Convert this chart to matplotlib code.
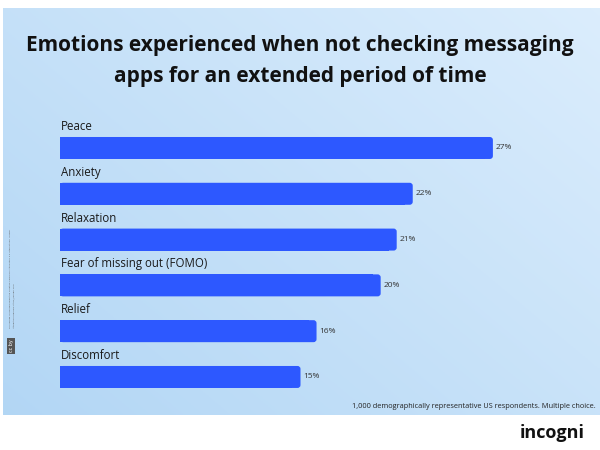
import numpy as np
import matplotlib.pyplot as plt
from matplotlib.patches import FancyBboxPatch, Rectangle

# data
categories = ["Peace", "Anxiety", "Relaxation", "Fear of missing out (FOMO)", "Relief", "Discomfort"]
values = [27, 22, 21, 20, 16, 15]
value_labels = ["27%", "22%", "21%", "20%", "16%", "15%"]

title = "Emotions experienced when not checking messaging\napps for an extended period of time"
note = "1,000 demographically representative US respondents. Multiple choice."
bar_color = "#2d58ff"

fig = plt.figure(figsize=(6, 4.5), dpi=100)
fig.patch.set_facecolor("white")

# background panel with a soft gradient
bg = fig.add_axes([3 / 600, 1 - 415 / 450, 597 / 600, 407 / 450])
xx, yy = np.meshgrid(np.linspace(0, 1, 200), np.linspace(0, 1, 200))
t = 0.55 * (1 - xx) + 0.45 * yy
top = np.array([0.86, 0.93, 0.99])
bot = np.array([0.70, 0.84, 0.96])
img = top[None, None, :] * (1 - t[..., None]) + bot[None, None, :] * t[..., None]
bg.imshow(img, aspect="auto", extent=[0, 1, 0, 1])
bg.set_axis_off()

# title
fig.text(0.5, 1 - 61 / 450, title, ha="center", va="center", fontsize=15,
         fontweight="bold", family="Open Sans", color="#111111", linespacing=1.6)

# main axes
ax = fig.add_axes([60 / 600, 1 - 400 / 450, 481 / 600, 280 / 450])
ax.set_xlim(0, 30)
ax.set_ylim(5.503, -0.611)
ax.set_axis_off()

h = 0.48
r = 0.19
for i, (cat, v, lab) in enumerate(zip(categories, values, value_labels)):
    ax.add_patch(FancyBboxPatch((0, i - h / 2), v, h,
                                boxstyle=f"round,pad=0,rounding_size={r}",
                                mutation_aspect=0.34, fc=bar_color, ec="none"))
    ax.add_patch(Rectangle((0, i - h / 2), v - 0.5, h, fc=bar_color, ec="none"))
    ax.text(0.05, i - 0.47, cat, ha="left", va="center", fontsize=8.3,
            family="Open Sans", color="#1a1a1a")
    ax.text(v + 0.2, i, lab, ha="left", va="center", fontsize=6,
            family="Open Sans", color="#333333")

# footnote
fig.text(596 / 600, 1 - 407 / 450, note, ha="right", va="center", fontsize=5.35,
         family="Open Sans", color="#222222")

# side licence note
fig.text(10 / 600, 1 - 328 / 450,
         "This image is licensed under the Creative Commons Attribution 4.0 International license.",
         rotation=90, ha="center", va="bottom", fontsize=1.6, color="#555555")
fig.text(14 / 600, 1 - 328 / 450,
         "Attribution required: https://incogni.com",
         rotation=90, ha="center", va="bottom", fontsize=1.6, color="#555555")
fig.text(11 / 600, 1 - 346 / 450, "cc by", rotation=90, ha="center", va="center",
         fontsize=3.5, color="white",
         bbox=dict(boxstyle="square,pad=0.3", fc="#555555", ec="none"))

# logo
fig.text(585 / 600, 1 - 433 / 450, "incogni", ha="right", va="center", fontsize=13,
         fontweight="bold", family="Open Sans", color="#111111")

fig.savefig("out.png", dpi=100)
